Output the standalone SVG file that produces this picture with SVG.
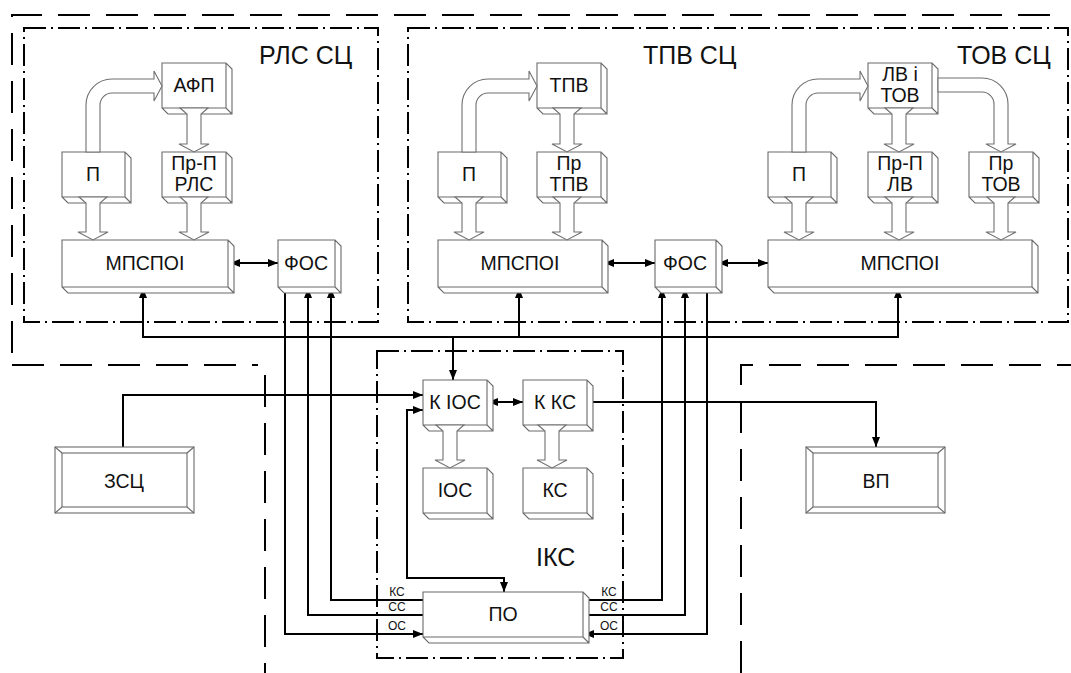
<svg xmlns="http://www.w3.org/2000/svg" width="1071" height="673" viewBox="0 0 1071 673">
<style>
.b{fill:#fff;stroke:#6a6a6a;stroke-width:1.1;stroke-linejoin:miter}
.h{fill:#fff;stroke:#707070;stroke-width:1.1;stroke-linejoin:miter}
.ln{fill:none;stroke:#000;stroke-width:2}
.dd{fill:none;stroke:#000;stroke-width:2;stroke-dasharray:22 5 2 5}
.ds{fill:none;stroke:#000;stroke-width:2;stroke-dasharray:32 16}
text{font-family:"Liberation Sans",Arial,sans-serif;fill:#111;text-anchor:middle}
.t{font-size:19.5px}
.g{font-size:25px;text-anchor:start}
.s{font-size:12px}
</style>
<defs>
<marker id="a" markerUnits="userSpaceOnUse" markerWidth="11" markerHeight="9" refX="10" refY="4" orient="auto-start-reverse" viewBox="0 0 11 9">
<path d="M0,0 L10,4 L0,8 Z" fill="#000"/>
</marker>
</defs>
<rect width="1071" height="673" fill="#fff"/>
<g id="boundaries">
<path class="ds" d="M12,353 V15 H1062"/>
<path class="ds" d="M12,365 H258"/>
<path class="ds" d="M265,375 V673"/>
<path class="ds" d="M741,673 V365 H1071"/>
<rect class="dd" x="24" y="28" width="354" height="294"/>
<rect class="dd" x="408" y="28" width="660" height="294"/>
<rect class="dd" x="377" y="351" width="246" height="307"/>
<text class="g" x="259" y="64">РЛС СЦ</text>
<text class="g" x="643" y="64">ТПВ СЦ</text>
<text class="g" x="957" y="64">ТОВ СЦ</text>
<text class="g" x="536" y="566">ІКС</text>
</g>
<g id="connectors">
<path class="ln" d="M230,263 H278" marker-start="url(#a)" marker-end="url(#a)"/>
<path class="ln" d="M604,263 H655" marker-start="url(#a)" marker-end="url(#a)"/>
<path class="ln" d="M718,263 H768" marker-start="url(#a)" marker-end="url(#a)"/>
<path class="ln" d="M143,288 V337 H898 V288" marker-start="url(#a)" marker-end="url(#a)"/>
<path class="ln" d="M519,337 V288" marker-end="url(#a)"/>
<path class="ln" d="M453,337 V380" marker-end="url(#a)"/>
<path class="ln" d="M285,288 V634 H423" marker-end="url(#a)"/>
<path class="ln" d="M423,615 H308 V288" marker-end="url(#a)"/>
<path class="ln" d="M423,600 H331 V288" marker-end="url(#a)"/>
<path class="ln" d="M707,288 V634 H584" marker-end="url(#a)"/>
<path class="ln" d="M584,615 H685 V288" marker-end="url(#a)"/>
<path class="ln" d="M584,600 H662 V288" marker-end="url(#a)"/>
<path class="ln" d="M123,447 V395 H423" marker-end="url(#a)"/>
<path class="ln" d="M423,410 H407 V578 H504 V592" marker-start="url(#a)" marker-end="url(#a)"/>
<path class="ln" d="M488,402 H523" marker-start="url(#a)" marker-end="url(#a)"/>
<path class="ln" d="M587,402 H876 V447" marker-end="url(#a)"/>
<text class="s" x="397" y="596">КС</text>
<text class="s" x="397" y="611">СС</text>
<text class="s" x="397" y="630">ОС</text>
<text class="s" x="609" y="596">КС</text>
<text class="s" x="609" y="611">СС</text>
<text class="s" x="609" y="630">ОС</text>
</g>
<g id="rls-afp"><path class="b" d="M162,63 h64 l6,6 v45 h-64 l-6,-6 z M226,63 v45 h-64 m64,0 l6,6"/><text class="t" x="194" y="92">АФП</text></g>
<g id="rls-p"><path class="b" d="M62,152 h63 l6,6 v45 h-63 l-6,-6 z M125,152 v45 h-63 m63,0 l6,6"/><text class="t" x="93" y="181">П</text></g>
<g id="rls-prp"><path class="b" d="M162,152 h64 l6,6 v45 h-64 l-6,-6 z M226,152 v45 h-64 m64,0 l6,6"/><text class="t" x="194" y="170">Пр-П</text><text class="t" x="194" y="191">РЛС</text></g>
<g id="rls-mpspoi"><path class="b" d="M62,240 h166 l6,6 v47 h-166 l-6,-6 z M228,240 v47 h-166 m166,0 l6,6"/><text class="t" x="145" y="270">МПСПОІ</text></g>
<g id="rls-fos"><path class="b" d="M278,240 h57 l6,6 v47 h-57 l-6,-6 z M335,240 v47 h-57 m57,0 l6,6"/><text class="t" x="306" y="270">ФОС</text></g>
<g id="tpv-tpv"><path class="b" d="M537,63 h64 l6,6 v45 h-64 l-6,-6 z M601,63 v45 h-64 m64,0 l6,6"/><text class="t" x="569" y="92">ТПВ</text></g>
<g id="tpv-p"><path class="b" d="M438,152 h63 l6,6 v45 h-63 l-6,-6 z M501,152 v45 h-63 m63,0 l6,6"/><text class="t" x="469" y="181">П</text></g>
<g id="tpv-pr"><path class="b" d="M537,152 h64 l6,6 v45 h-64 l-6,-6 z M601,152 v45 h-64 m64,0 l6,6"/><text class="t" x="569" y="170">Пр</text><text class="t" x="569" y="191">ТПВ</text></g>
<g id="tpv-mpspoi"><path class="b" d="M438,240 h164 l6,6 v47 h-164 l-6,-6 z M602,240 v47 h-164 m164,0 l6,6"/><text class="t" x="520" y="270">МПСПОІ</text></g>
<g id="mid-fos"><path class="b" d="M655,240 h61 l6,6 v47 h-61 l-6,-6 z M716,240 v47 h-61 m61,0 l6,6"/><text class="t" x="685" y="270">ФОС</text></g>
<g id="tov-lv"><path class="b" d="M868,63 h64 l6,6 v45 h-64 l-6,-6 z M932,63 v45 h-64 m64,0 l6,6"/><text class="t" x="900" y="81">ЛВ і</text><text class="t" x="900" y="102">ТОВ</text></g>
<g id="tov-p"><path class="b" d="M768,152 h63 l6,6 v45 h-63 l-6,-6 z M831,152 v45 h-63 m63,0 l6,6"/><text class="t" x="799" y="181">П</text></g>
<g id="tov-prplv"><path class="b" d="M868,152 h64 l6,6 v45 h-64 l-6,-6 z M932,152 v45 h-64 m64,0 l6,6"/><text class="t" x="900" y="170">Пр-П</text><text class="t" x="900" y="191">ЛВ</text></g>
<g id="tov-prtov"><path class="b" d="M969,152 h64 l6,6 v45 h-64 l-6,-6 z M1033,152 v45 h-64 m64,0 l6,6"/><text class="t" x="1001" y="170">Пр</text><text class="t" x="1001" y="191">ТОВ</text></g>
<g id="tov-mpspoi"><path class="b" d="M768,240 h264 l6,6 v47 h-264 l-6,-6 z M1032,240 v47 h-264 m264,0 l6,6"/><text class="t" x="900" y="270">МПСПОІ</text></g>
<g id="iks-kios"><path class="b" d="M423,380 h64 l6,6 v45 h-64 l-6,-6 z M487,380 v45 h-64 m64,0 l6,6"/><text class="t" x="455" y="409">К ІОС</text></g>
<g id="iks-kks"><path class="b" d="M523,380 h64 l6,6 v45 h-64 l-6,-6 z M587,380 v45 h-64 m64,0 l6,6"/><text class="t" x="555" y="409">К КС</text></g>
<g id="iks-ios"><path class="b" d="M423,468 h64 l6,6 v45 h-64 l-6,-6 z M487,468 v45 h-64 m64,0 l6,6"/><text class="t" x="455" y="497">ІОС</text></g>
<g id="iks-ks"><path class="b" d="M523,468 h64 l6,6 v45 h-64 l-6,-6 z M587,468 v45 h-64 m64,0 l6,6"/><text class="t" x="555" y="497">КС</text></g>
<g id="iks-po"><path class="b" d="M423,592 h160 l6,6 v45 h-160 l-6,-6 z M583,592 v45 h-160 m160,0 l6,6"/><text class="t" x="503" y="621">ПО</text></g>
<g id="zsc"><rect class="b" x="55" y="447" width="139" height="66"/><rect class="b" x="62" y="453" width="125" height="54"/><path class="b" d="M55,447 L62,453 M194,447 L187,453 M55,513 L62,507 M194,513 L187,507"/><text class="t" x="124" y="488">ЗСЦ</text></g>
<g id="vp"><rect class="b" x="806" y="447" width="139" height="66"/><rect class="b" x="813" y="453" width="125" height="54"/><path class="b" d="M806,447 L813,453 M945,447 L938,453 M806,513 L813,507 M945,513 L938,507"/><text class="t" x="876" y="488">ВП</text></g>
<g id="hollow-arrows">
<path class="h" d="M86,152 V105 A26,26 0 0 1 112,79 H154 V71 L162,86 L154,101 V93 H112 A12,12 0 0 0 100,105 V152 Z"/>
<path class="h" d="M462,152 V105 A26,26 0 0 1 488,79 H529 V71 L537,86 L529,101 V93 H488 A12,12 0 0 0 476,105 V152 Z"/>
<path class="h" d="M792,152 V105 A26,26 0 0 1 818,79 H860 V71 L868,86 L860,101 V93 H818 A12,12 0 0 0 806,105 V152 Z"/>
<path class="h" d="M938,78 H982 A26,26 0 0 1 1008,104 V144 H1016 L1001,152 L986,144 H994 V104 A12,12 0 0 0 982,92 H938 Z"/>
<path class="h" d="M180,108 L187,114 V144 H179 L194,152 L209,144 H201 V114 L208,108 Z"/>
<path class="h" d="M79,197 L86,203 V232 H78 L93,240 L108,232 H100 V203 L107,197 Z"/>
<path class="h" d="M180,197 L187,203 V232 H179 L194,240 L209,232 H201 V203 L208,197 Z"/>
<path class="h" d="M553,108 L560,114 V144 H552 L567,152 L582,144 H574 V114 L581,108 Z"/>
<path class="h" d="M455,197 L462,203 V232 H454 L469,240 L484,232 H476 V203 L483,197 Z"/>
<path class="h" d="M553,197 L560,203 V232 H552 L567,240 L582,232 H574 V203 L581,197 Z"/>
<path class="h" d="M885,108 L892,114 V144 H884 L899,152 L914,144 H906 V114 L913,108 Z"/>
<path class="h" d="M785,197 L792,203 V232 H784 L799,240 L814,232 H806 V203 L813,197 Z"/>
<path class="h" d="M885,197 L892,203 V232 H884 L899,240 L914,232 H906 V203 L913,197 Z"/>
<path class="h" d="M987,197 L994,203 V232 H986 L1001,240 L1016,232 H1008 V203 L1015,197 Z"/>
<path class="h" d="M436,425 L443,431 V460 H435 L450,468 L465,460 H457 V431 L464,425 Z"/>
<path class="h" d="M538,425 L545,431 V460 H537 L552,468 L567,460 H559 V431 L566,425 Z"/>
</g>
</svg>
